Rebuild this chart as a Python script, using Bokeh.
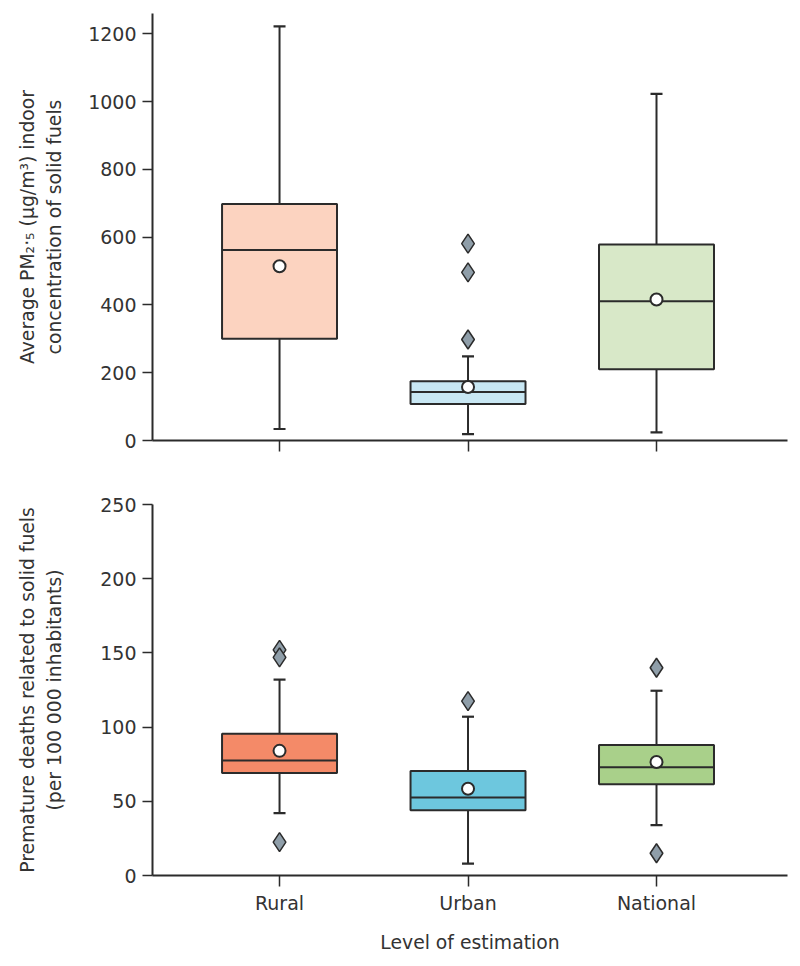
import pandas as pd
from bokeh.plotting import figure
from bokeh.layouts import column
from bokeh.models import ColumnDataSource, FixedTicker, Range1d
from bokeh.embed import file_html
from bokeh.resources import INLINE

# ---------------- data ----------------
categories = ["Rural", "Urban", "National"]

pm_lower = [34, 19, 24]
pm_q1 = [300, 108, 210]
pm_median = [562, 143, 411]
pm_q3 = [698, 175, 578]
pm_upper = [1222, 248, 1023]
pm_mean = [514, 158, 416]
pm_outlier_cat = ["Urban", "Urban", "Urban"]
pm_outlier_val = [581, 496, 298]

dth_lower = [42, 8, 34]
dth_q1 = [69, 44, 61.5]
dth_median = [77.5, 52.5, 73]
dth_q3 = [95.5, 70.5, 88]
dth_upper = [132, 107, 124.5]
dth_mean = [84, 58.5, 76.5]
dth_outlier_cat = ["Rural", "Rural", "Rural", "Urban", "National", "National"]
dth_outlier_val = [152, 147, 22.5, 117.5, 140, 15]

pm_colors = ["#FCD3C0", "#C8E7F3", "#D8E8C8"]
dth_colors = ["#F48A68", "#6DC7DE", "#A9D08A"]

pm_yticks = [0, 200, 400, 600, 800, 1000, 1200]
dth_yticks = [0, 50, 100, 150, 200, 250]

# ---------------- style ----------------
FONT = "DejaVu Sans"
TEXT = "#333333"
LINE = "#2b2b2b"
OUT_FILL = "#8F9EA9"
BOX_W = 0.61
XPOS = {c: i + 1 for i, c in enumerate(categories)}


def panel(lower, q1, median, q3, upper, mean, out_cat, out_val, colors,
          yticks, ymax, ylabel, height, border_top, border_bottom,
          show_xlabels, label_standoff):
    df = pd.DataFrame(dict(cat=categories, lower=lower, q1=q1, median=median,
                           q3=q3, upper=upper, mean=mean, color=colors))
    df["x"] = df["cat"].map(XPOS)
    df["x0"] = df["x"] - BOX_W / 2
    df["x1"] = df["x"] + BOX_W / 2
    src = ColumnDataSource(df)
    odf = pd.DataFrame(dict(cat=out_cat, val=out_val))
    odf["x"] = odf["cat"].map(XPOS)
    osrc = ColumnDataSource(odf)

    p = figure(width=790, height=height, output_backend="svg",
               toolbar_location=None,
               x_range=Range1d(0.326, 3.695), y_range=Range1d(0, ymax),
               min_border_left=152, min_border_right=3,
               min_border_top=border_top, min_border_bottom=border_bottom)
    p.outline_line_color = None
    p.grid.grid_line_color = None
    p.background_fill_color = "white"
    p.border_fill_color = "white"

    # whisker stems
    p.segment(x0="x", x1="x", y0="q3", y1="upper", source=src,
              line_color=LINE, line_width=2)
    p.segment(x0="x", x1="x", y0="lower", y1="q1", source=src,
              line_color=LINE, line_width=2)
    # caps
    p.scatter(x="x", y="upper", source=src, marker="dash", size=12,
              line_color=LINE, line_width=2.2)
    p.scatter(x="x", y="lower", source=src, marker="dash", size=12,
              line_color=LINE, line_width=2.2)
    # boxes
    p.vbar(x="x", width=BOX_W, bottom="q1", top="q3", source=src,
           fill_color="color", line_color=LINE, line_width=2)
    # medians
    p.segment(x0="x0", x1="x1", y0="median", y1="median", source=src,
              line_color=LINE, line_width=2)
    # means
    p.scatter(x="x", y="mean", source=src, marker="circle", size=12,
              fill_color="white", line_color=LINE, line_width=2)
    # outliers
    p.scatter(x="x", y="val", source=osrc, marker="diamond", size=19,
              fill_color=OUT_FILL, line_color=LINE, line_width=1.5)

    for ax in (p.xaxis[0], p.yaxis[0]):
        ax.axis_line_color = LINE
        ax.axis_line_width = 2
        ax.major_tick_line_color = LINE
        ax.major_tick_line_width = 1.5
        ax.major_tick_in = 0
        ax.major_tick_out = 10
        ax.minor_tick_line_color = None
        ax.major_label_text_font = FONT
        ax.major_label_text_font_size = "19px"
        ax.major_label_text_color = TEXT
        ax.axis_label_text_font = FONT
        ax.axis_label_text_font_size = "18.8px"
        ax.axis_label_text_font_style = "normal"
        ax.axis_label_text_color = TEXT
        ax.axis_label_text_line_height = 1.3

    p.yaxis.ticker = FixedTicker(ticks=yticks)
    p.yaxis.major_label_standoff = 6
    p.yaxis.axis_label = ylabel
    p.yaxis.axis_label_standoff = label_standoff

    p.xaxis.ticker = FixedTicker(ticks=[XPOS[c] for c in categories])
    p.xaxis.major_tick_out = 11
    if show_xlabels:
        p.xaxis.major_label_overrides = {XPOS[c]: c for c in categories}
        p.xaxis.major_label_standoff = 5
        p.xaxis.axis_label = "Level of estimation"
        p.xaxis.axis_label_standoff = 15
    else:
        p.xaxis.major_label_overrides = {XPOS[c]: "" for c in categories}
        p.xaxis.major_label_text_font_size = "0px"
    return p


top = panel(pm_lower, pm_q1, pm_median, pm_q3, pm_upper, pm_mean,
            pm_outlier_cat, pm_outlier_val, pm_colors, pm_yticks, 1260,
            "Average PM\u2082\u00b7\u2085 (\u00b5g/m\u00b3) indoor\nconcentration of solid fuels",
            height=470, border_top=13, border_bottom=30,
            show_xlabels=False, label_standoff=20)

bottom = panel(dth_lower, dth_q1, dth_median, dth_q3, dth_upper, dth_mean,
               dth_outlier_cat, dth_outlier_val, dth_colors, dth_yticks, 250,
               "Premature deaths related to solid fuels\n(per 100 000 inhabitants)",
               height=490, border_top=34, border_bottom=85,
               show_xlabels=True, label_standoff=32)

layout = column(top, bottom, spacing=0)
open("out.html", "w").write(file_html(layout, INLINE))
